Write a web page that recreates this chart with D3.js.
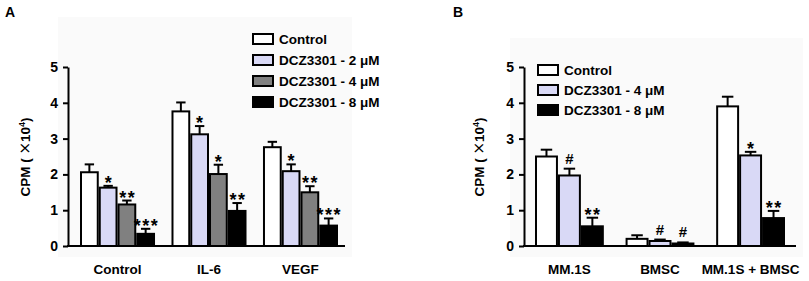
<!DOCTYPE html>
<html>
<head>
<meta charset="utf-8">
<script src="https://cdn.jsdelivr.net/npm/d3@7"></script>
<style>
  body { margin: 0; background: #fff; }
  text { font-family: "Liberation Sans", Arial, sans-serif; font-weight: bold; }
</style>
</head>
<body>
<div id="chart"></div>
<script>
// panel A data
var catsA = ["Control", "IL-6", "VEGF"];
var seriesA = ["Control", "DCZ3301 - 2 μM", "DCZ3301 - 4 μM", "DCZ3301 - 8 μM"];
var meanA = [
  [2.06, 3.76, 2.76],
  [1.63, 3.12, 2.09],
  [1.16, 2.01, 1.50],
  [0.34, 0.98, 0.57]
];
var errA = [
  [0.22, 0.25, 0.15],
  [0.05, 0.23, 0.19],
  [0.11, 0.26, 0.17],
  [0.14, 0.22, 0.20]
];
var sigA = [
  ["", "", ""],
  ["*", "*", "*"],
  ["**", "*", "**"],
  ["***", "**", "***"]
];

// panel B data
var catsB = ["MM.1S", "BMSC", "MM.1S + BMSC"];
var seriesB = ["Control", "DCZ3301 - 4 μM", "DCZ3301 - 8 μM"];
var meanB = [
  [2.50, 0.20, 3.90],
  [1.97, 0.14, 2.53],
  [0.55, 0.07, 0.78]
];
var errB = [
  [0.19, 0.10, 0.27],
  [0.19, 0.04, 0.10],
  [0.24, 0.03, 0.20]
];
var sigB = [
  ["", "", ""],
  ["#", "#", "*"],
  ["**", "#", "**"]
];

var yTicks = [0, 1, 2, 3, 4, 5];

var fillsA = ["#ffffff", "#d9d9f6", "#808080", "#000000"];
var fillsB = ["#ffffff", "#d9d9f6", "#000000"];

var svg = d3.select("#chart").append("svg")
  .attr("width", 809)
  .attr("height", 281);

/**
 * Renders one bar panel
 */
function renderPanel(opt) {
  var g = svg.append("g");

  // faint plot background
  g.append("rect")
    .attr("x", opt.bg[0]).attr("y", opt.bg[1])
    .attr("width", opt.bg[2]).attr("height", opt.bg[3])
    .attr("fill", "#fafafa");

  var y = d3.scaleLinear().domain([0, 5]).range([246, 67]);
  var x0 = d3.scaleBand().domain(opt.cats).range(opt.groupRange)
    .paddingInner(opt.padding).paddingOuter(0);
  var x1 = d3.scaleBand().domain(d3.range(opt.series.length))
    .range([0, x0.bandwidth()]);

  // y axis
  var yAxis = d3.axisLeft(y).tickValues(yTicks).tickFormat(d3.format("d"))
    .tickSize(5).tickSizeOuter(0);
  var ax = g.append("g")
    .attr("transform", "translate(" + opt.axisX + ",0)")
    .call(yAxis);
  ax.select(".domain").attr("stroke", "#000").attr("stroke-width", 2);
  ax.selectAll(".tick line").attr("stroke", "#000").attr("stroke-width", 2);
  ax.selectAll(".tick text")
    .attr("font-size", 14).attr("fill", "#000").attr("x", -10)
    .style("font-family", "Liberation Sans, Arial, sans-serif").style("font-weight", "bold");

  // bars
  opt.series.forEach(function (s, i) {
    opt.cats.forEach(function (c, j) {
      var bx = x0(c) + x1(i);
      var bw = x1.bandwidth();
      var v = opt.mean[i][j];
      var e = opt.err[i][j];
      var cx = bx + bw / 2;

      // error bar
      g.append("line")
        .attr("x1", cx).attr("x2", cx)
        .attr("y1", y(v)).attr("y2", y(v + e))
        .attr("stroke", "#000").attr("stroke-width", 2);
      g.append("line")
        .attr("x1", cx - bw * 0.25).attr("x2", cx + bw * 0.25)
        .attr("y1", y(v + e)).attr("y2", y(v + e))
        .attr("stroke", "#000").attr("stroke-width", 2);

      g.append("rect")
        .attr("x", bx + 1).attr("y", y(v))
        .attr("width", bw - 2).attr("height", y(0) - y(v))
        .attr("fill", opt.fills[i])
        .attr("stroke", "#000").attr("stroke-width", 2);

      // significance marks
      if (opt.sig[i][j]) {
        var isHash = opt.sig[i][j] === "#";
        g.append("text")
          .attr("x", cx + (isHash ? 0 : 0.75))
          .attr("y", y(v + e) + (isHash ? -5 : 3))
          .attr("text-anchor", "middle")
          .attr("font-size", isHash ? 15 : 18)
          .attr("letter-spacing", isHash ? 0 : 1.5)
          .text(opt.sig[i][j]);
      }
    });
  });

  // x axis line
  g.append("line")
    .attr("x1", opt.axisX - 1).attr("x2", opt.axisEnd)
    .attr("y1", y(0)).attr("y2", y(0))
    .attr("stroke", "#000").attr("stroke-width", 2);

  // category labels
  opt.cats.forEach(function (c) {
    g.append("text")
      .attr("x", x0(c) + x0.bandwidth() / 2)
      .attr("y", 274)
      .attr("text-anchor", "middle")
      .attr("font-size", 13.5)
      .text(c);
  });

  // y label
  var yl = g.append("text")
    .attr("transform", "translate(" + opt.labelX + ",157) rotate(-90)")
    .attr("text-anchor", "middle")
    .attr("font-size", 13.5);
  yl.append("tspan").text("CPM ( ");
  yl.append("tspan")
    .style("font-weight", "normal").style("font-family", "DejaVu Sans")
    .attr("font-size", 15).text("×");
  yl.append("tspan").text("10");
  yl.append("tspan").attr("font-size", 9).attr("dy", -5).text("4");
  yl.append("tspan").attr("dy", 5).text(")");

  // legend
  opt.series.forEach(function (s, i) {
    var ly = opt.legend[1] + i * opt.legend[2];
    g.append("rect")
      .attr("x", opt.legend[0]).attr("y", ly - 5)
      .attr("width", 20).attr("height", 10)
      .attr("fill", opt.fills[i])
      .attr("stroke", "#000").attr("stroke-width", 2);
    g.append("text")
      .attr("x", opt.legend[0] + 26).attr("y", ly + 5)
      .attr("font-size", 13.5)
      .text(s);
  });

  // panel letter
  g.append("text")
    .attr("x", opt.letterX).attr("y", 17)
    .attr("font-size", 14)
    .text(opt.letter);
}

renderPanel({
  cats: catsA, series: seriesA, mean: meanA, err: errA, sig: sigA, fills: fillsA,
  groupRange: [80, 338], padding: 0.18, axisX: 68, axisEnd: 345,
  labelX: 30, legend: [253, 39, 21], letter: "A", letterX: 5,
  bg: [58, 17, 294, 240]
});

renderPanel({
  cats: catsB, series: seriesB, mean: meanB, err: errB, sig: sigB, fills: fillsB,
  groupRange: [535, 785], padding: 0.24, axisX: 524, axisEnd: 796,
  labelX: 484, legend: [538, 70, 20], letter: "B", letterX: 453,
  bg: [510, 38, 293, 219]
});
</script>
</body>
</html>
